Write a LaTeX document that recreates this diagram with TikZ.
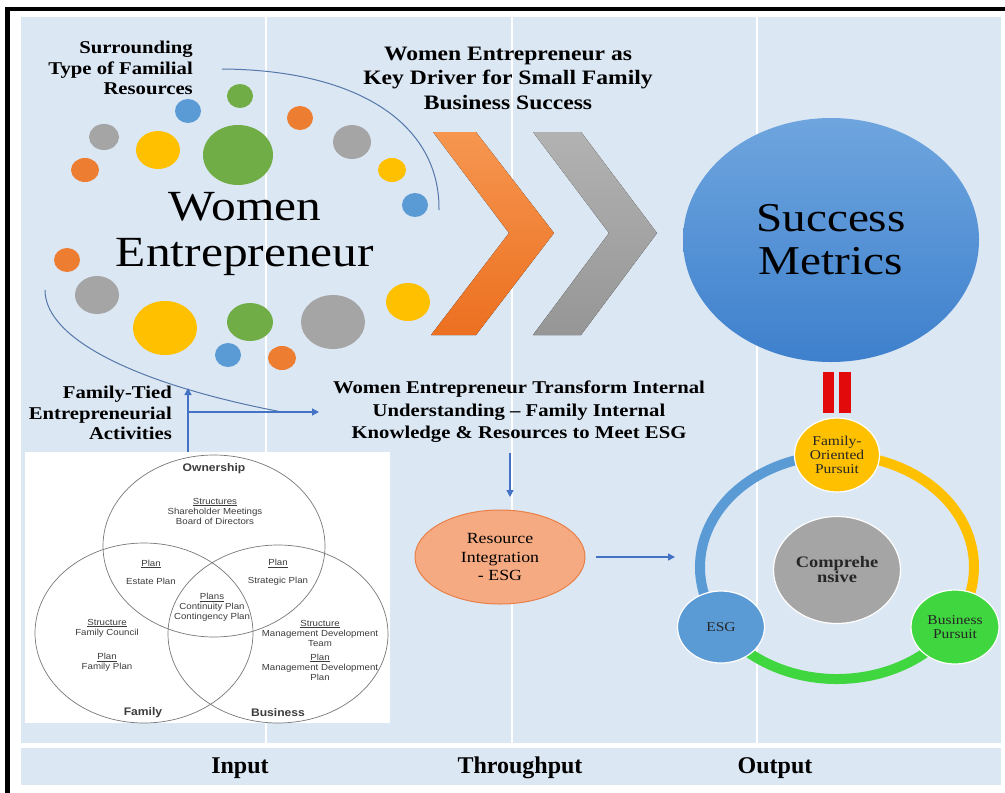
\documentclass[tikz,border=0pt]{standalone}
\usepackage{fontspec}
\setmainfont{Liberation Serif}[FakeStretch=1.15]
\newfontfamily\plainserif{Liberation Serif}
\newfontfamily\vennfont{Liberation Sans}[FakeStretch=1.1]
\usepackage{xcolor}
\usepackage{tikz}
\usetikzlibrary{positioning}
\usetikzlibrary{shapes.geometric}
\usetikzlibrary{arrows.meta}
\pgfdeclarelayer{bglayer}
\pgfdeclarelayer{edgelayer}
\pgfdeclarelayer{nodelayer}
\pgfsetlayers{bglayer,edgelayer,nodelayer,main}

\definecolor{panel}{RGB}{220,231,244}
\definecolor{ballblue}{RGB}{91,155,213}
\definecolor{ballgreen}{RGB}{112,173,71}
\definecolor{ballorange}{RGB}{237,125,49}
\definecolor{ballgrey}{RGB}{165,165,165}
\definecolor{ballyellow}{RGB}{255,192,0}
\definecolor{linkblue}{RGB}{68,114,196}
\definecolor{arcblue}{RGB}{84,120,170}
\definecolor{metrictop}{RGB}{110,165,222}
\definecolor{metricbottom}{RGB}{62,128,205}
\definecolor{chevtop}{RGB}{246,150,80}
\definecolor{chevbottom}{RGB}{236,112,32}
\definecolor{greytop}{RGB}{178,178,178}
\definecolor{greybottom}{RGB}{150,150,150}
\definecolor{salmon}{RGB}{245,170,130}
\definecolor{salmonline}{RGB}{232,128,72}
\definecolor{ringgreen}{RGB}{64,214,64}
\definecolor{barred}{RGB}{226,10,10}
\definecolor{vennline}{RGB}{120,120,120}
\definecolor{venntext}{RGB}{60,60,60}

\tikzset{
    none/.style = {inner sep=0pt},
    sidetext/.style = {inner sep=0pt, font=\bfseries\fontsize{18}{20.5}\selectfont},
    headtext/.style = {inner sep=0pt, align=center, font=\bfseries\fontsize{20.5}{24.5}\selectfont},
    flowarrow/.style = {draw=linkblue, line width=1.4pt, -{Triangle[length=7pt,width=7pt]}},
    thinarc/.style = {draw=arcblue, line width=1pt},
    ring/.style = {line width=10pt},
    stage/.style = {ellipse, inner sep=0pt, draw=white, line width=1.2pt, align=center,
        text=black!85, font=\fontsize{13.5}{14}\selectfont},
    venn/.style = {draw=vennline, line width=0.7pt},
    venntxt/.style = {inner sep=0pt, align=center, text=venntext, font=\vennfont\fontsize{8.8}{10}\selectfont},
    vennhead/.style = {inner sep=0pt, text=venntext, font=\vennfont\bfseries\fontsize{11}{12}\selectfont},
    colname/.style = {inner sep=0pt, font=\plainserif\bfseries\fontsize{24}{26}\selectfont}
}

\begin{document}
\begin{tikzpicture}[x=1pt, y=-1pt]
    \useasboundingbox (0,0) rectangle (1005,793);
    \begin{pgfonlayer}{bglayer}
        \fill[white] (0,0) rectangle (1005,793);
        \fill[black] (5,7) rectangle (1005,11);
        \fill[black] (5,7) rectangle (10,793);
        \fill[panel] (21,17) rectangle (1001,743);
        \fill[panel] (21,748) rectangle (1001,785);
        \foreach \x in {266,512,757}
            \draw[white, line width=2.5pt] (\x,17) -- (\x,743);
    \end{pgfonlayer}
    \begin{pgfonlayer}{nodelayer}
        % bubbles round the centre text
        \foreach \x/\y/\a/\b/\c in {188/111/13/12/ballblue, 240/96/13/12/ballgreen,
                104/137/15/13/ballgrey, 158/150/22/19/ballyellow, 238/155/35/30/ballgreen,
                85/170/14/12/ballorange, 300/118/13/12/ballorange, 352/142/19/17/ballgrey,
                392/170/14/12/ballyellow, 415/205/13/12/ballblue, 67/260/13/12/ballorange,
                97/295/22/19/ballgrey, 165/328/32/27/ballyellow, 250/322/23/19/ballgreen,
                228/355/13/12/ballblue, 282/358/14/12/ballorange, 333/322/32/27/ballgrey,
                408/302/22/19/ballyellow}
            \fill[\c] (\x,\y) ellipse [x radius=\a, y radius=\b];
        % chevrons
        \fill[top color=chevtop, bottom color=chevbottom]
            (433,132) -- (476,132) -- (554,233) -- (476,335) -- (431,335) -- (509,233) -- cycle;
        \fill[top color=greytop, bottom color=greybottom]
            (533,132) -- (581,132) -- (657,233) -- (581,335) -- (533,335) -- (609,233) -- cycle;
        % equals bars
        \fill[barred] (823,372) rectangle (834,413);
        \fill[barred] (839,372) rectangle (851,413);

        \node [sidetext, align=right, anchor=east] (0) at (193, 68) {Surrounding\\Type of Familial\\Resources};
        \node [headtext] (1) at (508, 78) {Women Entrepreneur as\\Key Driver for Small Family\\Business Success};
        \node [none, align=center, font=\fontsize{43}{46}\selectfont] (2) at (245, 234) {Women\\Entrepreneur};
        \node [ellipse, minimum width=296pt, minimum height=244pt, inner sep=0pt,
            top color=metrictop, bottom color=metricbottom, align=center,
            font=\fontsize{41}{43}\selectfont] (3) at (831, 240) {Success\\Metrics};
        \node [sidetext, align=right, anchor=east] (4) at (172, 413) {Family-Tied\\Entrepreneurial\\Activities};
        \node [sidetext, align=center, font=\bfseries\fontsize{18}{22.5}\selectfont] (5) at (519, 412)
            {Women Entrepreneur Transform Internal\\Understanding -- Family Internal\\Knowledge \& Resources to Meet ESG};
        \node [ellipse, minimum width=170pt, minimum height=94pt, inner sep=0pt, fill=salmon,
            draw=salmonline, line width=1pt, align=center,
            font=\fontsize{15.5}{18.5}\selectfont] (6) at (500, 557) {Resource\\Integration\\- ESG};

        % family / ownership / business circles
        \node [none, fill=white, minimum width=365pt, minimum height=271pt] (7) at (207.5, 587.5) {};
        \draw[venn] (214,546) ellipse [x radius=111, y radius=91];
        \draw[venn] (144,633) ellipse [x radius=109, y radius=90];
        \draw[venn] (278,634) ellipse [x radius=110, y radius=89];
        \node [vennhead] (v0) at (214, 469) {Ownership};
        \node [venntxt] (v1) at (215, 511) {\underline{Structures}\\Shareholder Meetings\\Board of Directors};
        \node [venntxt] (v2) at (151, 572) {\underline{Plan}\\[8pt]Estate Plan};
        \node [venntxt] (v3) at (278, 572) {\underline{Plan}\\[8pt]Strategic Plan};
        \node [venntxt] (v4) at (212, 607) {\underline{Plans}\\Continuity Plan\\Contingency Plan};
        \node [venntxt] (v5) at (107, 628) {\underline{Structure}\\Family Council};
        \node [venntxt] (v6) at (107, 662) {\underline{Plan}\\Family Plan};
        \node [venntxt] (v7) at (320, 633) {\underline{Structure}\\Management Development\\Team};
        \node [venntxt] (v8) at (320, 667) {\underline{Plan}\\Management Development\\Plan};
        \node [vennhead] (v9) at (143, 713) {Family};
        \node [vennhead] (v10) at (278, 713) {Business};

        % outcome cycle
        \coordinate (25) at (837, 567);
        \node [stage, fill=ballyellow, minimum width=85pt, minimum height=74pt] (8) at (837, 455) {Family-\\Oriented\\Pursuit};
        \node [stage, fill=ballblue, minimum width=87pt, minimum height=72pt] (9) at (721, 627) {ESG};
        \node [stage, fill=ringgreen, minimum width=88pt, minimum height=74pt] (10) at (955, 627) {Business\\Pursuit};
        \node [stage, fill=ballgrey, minimum width=127pt, minimum height=107pt,
            font=\bfseries\fontsize{16}{15}\selectfont] (11) at (837, 570) {Comprehe\\nsive};

        \node [colname] (12) at (240, 768) {Input};
        \node [colname] (13) at (520, 768) {Throughput};
        \node [colname] (14) at (775, 768) {Output};

        \coordinate (15) at (188, 388);
        \coordinate (16) at (188, 412);
        \coordinate (17) at (222, 69);
        \coordinate (18) at (439, 210);
        \coordinate (19) at (45, 290);
        \coordinate (20) at (282, 412);
        \coordinate (21) at (319, 412);
        \coordinate (22) at (510, 453);
        \coordinate (23) at (510, 497);
        \coordinate (24) at (675, 557);
    \end{pgfonlayer}
    \begin{pgfonlayer}{edgelayer}
        \draw[thinarc] (17) .. controls (360, 70) and (440, 125) .. (18);
        \draw[thinarc] (19) .. controls (45, 340) and (140, 385) .. (20);
        \draw[flowarrow] (7.north -| 15) -- (15);
        \draw[flowarrow] (16) -- (21);
        \draw[flowarrow] (22) -- (23);
        \draw[flowarrow] ([xshift=10pt]6.east) -- (24);
        \draw[ring, ballblue] (25) ++(148:137 and 112) arc[start angle=148, end angle=270, x radius=137, y radius=112];
        \draw[ring, ballyellow] (25) ++(-90:137 and 112) arc[start angle=-90, end angle=32, x radius=137, y radius=112];
        \draw[ring, ringgreen] (25) ++(32:137 and 112) arc[start angle=32, end angle=148, x radius=137, y radius=112];
    \end{pgfonlayer}
\end{tikzpicture}
\end{document}
